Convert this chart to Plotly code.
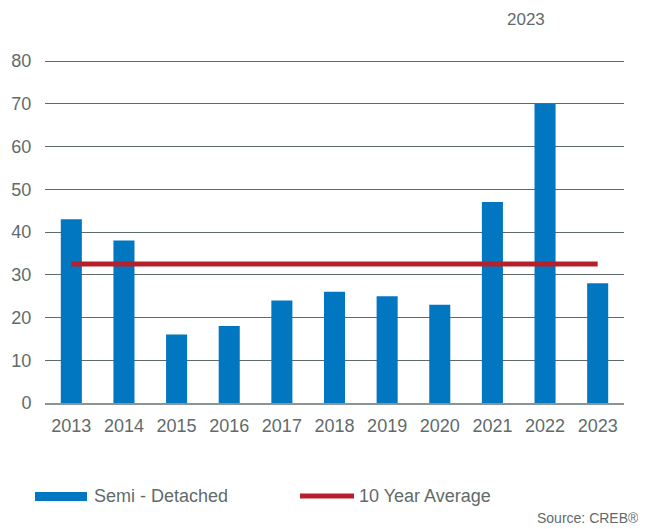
import plotly.graph_objects as go

years = ["2013", "2014", "2015", "2016", "2017", "2018", "2019", "2020", "2021", "2022", "2023"]
semi_detached = [43, 38, 16, 18, 24, 26, 25, 23, 47, 70, 28]
ten_year_avg = [32.5] * len(years)
y_ticks = [0, 10, 20, 30, 40, 50, 60, 70, 80]

OFF = 8  # page body margin
W, H = 646 - OFF, 529 - OFF
# plot area in page pixels: x 45..624, y 60..403
L, R, T, B = 45 - OFF, 646 - 624, 60 - OFF, 529 - 403
PW, PH = W - L - R, H - T - B

def px(x):
    return (x - OFF - L) / PW

def py(y):
    return (H - B - (y - OFF)) / PH

TXT = "#5f6b6b"
BLUE = "#0077c0"
RED = "#b5202a"
FONT = "Liberation Sans, Arial, sans-serif"

fig = go.Figure()
fig.add_trace(go.Bar(x=years, y=semi_detached, marker=dict(color=BLUE, line=dict(width=0)),
                     name="Semi - Detached", showlegend=False))
fig.add_trace(go.Scatter(x=years, y=ten_year_avg, mode="lines", line=dict(color=RED, width=5),
                         name="10 Year Average", showlegend=False))

shapes = [
    dict(type="rect", xref="paper", yref="paper", x0=px(35), x1=px(87), y0=py(501), y1=py(492),
         fillcolor=BLUE, line=dict(width=0)),
    dict(type="line", xref="paper", yref="paper", x0=px(300), x1=px(354), y0=py(496), y1=py(496),
         line=dict(color=RED, width=5)),
]
annotations = [
    dict(text="Semi - Detached", xref="paper", yref="paper", x=px(92), y=py(496), xanchor="left",
         yanchor="middle", showarrow=False, font=dict(size=18, color=TXT, family=FONT)),
    dict(text="10 Year Average", xref="paper", yref="paper", x=px(357), y=py(496), xanchor="left",
         yanchor="middle", showarrow=False, font=dict(size=18, color=TXT, family=FONT)),
    dict(text="Source: CREB®", xref="paper", yref="paper", x=px(641), y=py(518), xanchor="right",
         yanchor="middle", showarrow=False, font=dict(size=14, color=TXT, family=FONT)),
    dict(text="2023", xref="paper", yref="paper", x=px(526), y=py(9), xanchor="center",
         yanchor="top", showarrow=False, borderpad=0, font=dict(size=17, color=TXT, family=FONT)),
]

fig.update_layout(
    width=W, height=H,
    margin=dict(l=L, r=R, t=T, b=B, pad=0, autoexpand=False),
    paper_bgcolor="white", plot_bgcolor="white",
    bargap=0.6,
    font=dict(family=FONT, size=18, color=TXT),
    shapes=shapes, annotations=annotations,
    xaxis=dict(type="category", showgrid=False, showline=True, linecolor="#8a9494", linewidth=2,
               ticks="outside", ticklen=5, tickcolor="rgba(0,0,0,0)", automargin=False,
               tickfont=dict(size=18, color=TXT)),
    yaxis=dict(range=[0, 80.25], tickvals=y_ticks, showgrid=True, gridcolor="#5f6b6b", gridwidth=1,
               zeroline=False, showline=False, ticks="outside", ticklen=9, automargin=False,
               tickcolor="rgba(0,0,0,0)", tickfont=dict(size=18, color=TXT)),
)

fig.write_html("out.html")
